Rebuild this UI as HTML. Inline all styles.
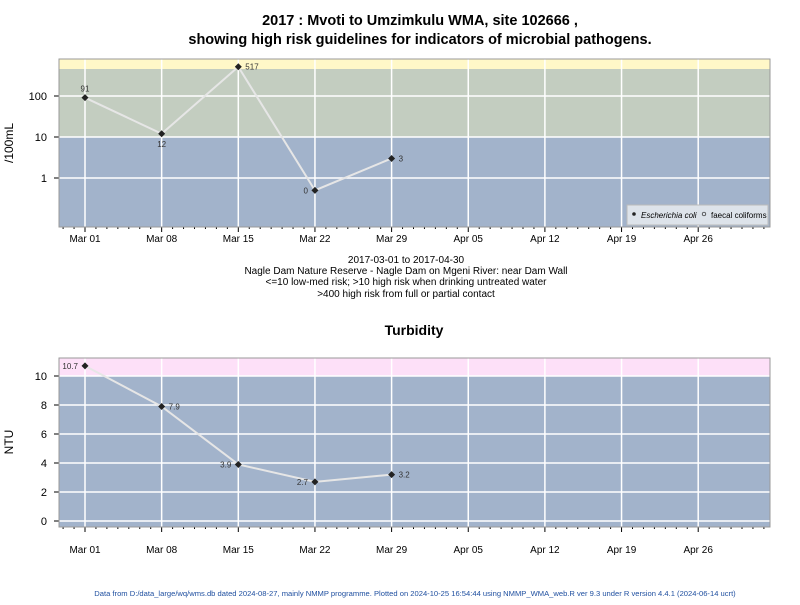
<!DOCTYPE html>
<html><head><meta charset="utf-8"><style>
body{margin:0;background:#fff;font-family:"Liberation Sans",sans-serif}
</style></head><body>
<svg width="800" height="600" xmlns="http://www.w3.org/2000/svg" font-family="Liberation Sans, sans-serif">
<g id="titles">
<text x="420" y="25" font-size="14.5" font-weight="bold" text-anchor="middle">2017 : Mvoti to Umzimkulu WMA, site 102666 ,</text>
<text x="420" y="44" font-size="14.5" font-weight="bold" text-anchor="middle">showing high risk guidelines for indicators of microbial pathogens.</text>
<g font-size="10" text-anchor="middle">
<text x="406" y="263">2017-03-01 to 2017-04-30</text>
<text x="406" y="274">Nagle Dam Nature Reserve - Nagle Dam on Mgeni River: near Dam Wall</text>
<text x="406" y="285">&lt;=10 low-med risk; &gt;10 high risk when drinking untreated water</text>
<text x="406" y="297">&gt;400 high risk from full or partial contact</text>
</g>
<text x="414" y="335" font-size="14" font-weight="bold" text-anchor="middle">Turbidity</text>
<text x="415" y="596" font-size="7.6" fill="#2050a0" text-anchor="middle">Data from D:/data_large/wq/wms.db dated 2024-08-27, mainly NMMP programme. Plotted on 2024-10-25 16:54:44 using NMMP_WMA_web.R ver 9.3 under R version 4.4.1 (2024-06-14 ucrt)</text>
<text transform="translate(13,143) rotate(-90)" font-size="12" text-anchor="middle">/100mL</text>
<text transform="translate(13,442) rotate(-90)" font-size="12" text-anchor="middle">NTU</text>
</g>
<g id="p1"></g><g id="p2"></g>
</svg>
<script>
const dateLabels=["Mar 01","Mar 08","Mar 15","Mar 22","Mar 29","Apr 05","Apr 12","Apr 19","Apr 26"];
const sampleDays=[0,7,14,21,28];
const ecoliValues=[91,12,517,0,3];
const ecoliLabels=["91","12","517","0","3"];
const ntuValues=[10.7,7.9,3.9,2.7,3.2];
const ntuLabels=["10.7","7.9","3.9","2.7","3.2"];
const logTicks=[1,10,100];
const ntuTicks=[0,2,4,6,8,10];
const NS="http://www.w3.org/2000/svg";
function mk(p,t,a){const e=document.createElementNS(NS,t);for(const k in a)e.setAttribute(k,a[k]);p.appendChild(e);return e;}
const X0=59,X1=770;
function xs(d){return 85+d*10.95;}
function drawPanel(g,top,bot,ys,bands,ticks,tickLab,vals,labs,labPos,name,labOff){
  bands.forEach(b=>{const r=mk(g,'rect',{x:X0,y:b[0],width:X1-X0,height:b[1]-b[0],fill:b[2]});
    });
  for(let i=0;i<dateLabels.length;i++){const x=xs(i*7);
    const l=mk(g,'line',{x1:x,x2:x,y1:top,y2:bot,stroke:'#fff','stroke-width':1.5});
    
    mk(g,'line',{x1:x,x2:x,y1:bot,y2:bot+5,stroke:'#000'});
    const t=mk(g,'text',{x:x,y:bot+labOff,'font-size':10,'text-anchor':'middle'});t.textContent=dateLabels[i];
    }
  for(let d=-2;d<=62;d++){const x=xs(d);if(x<X0||x>X1||d%7==0)continue;mk(g,'line',{x1:x,x2:x,y1:bot,y2:bot+2,stroke:'#000'});}
  ticks.forEach((v,i)=>{const y=ys(v);
    const l=mk(g,'line',{x1:X0,x2:X1,y1:y,y2:y,stroke:'#fff','stroke-width':1.5});
    
    mk(g,'line',{x1:X0-5,x2:X0,y1:y,y2:y,stroke:'#000'});
    const t=mk(g,'text',{x:X0-12,y:y+4,'font-size':11,'text-anchor':'end'});t.textContent=tickLab[i];
    });
  mk(g,'rect',{x:X0,y:top,width:X1-X0,height:bot-top,fill:'none',stroke:'#999'});
  const pts=vals.map((v,i)=>xs(sampleDays[i])+','+ys(v)).join(' ');
  const pl=mk(g,'polyline',{points:pts,fill:'none',stroke:'#e6e6e6','stroke-width':2});
  
  vals.forEach((v,i)=>{const x=xs(sampleDays[i]),y=ys(v);
    const c=mk(g,'path',{d:`M${x} ${y-3.5}L${x+3.5} ${y}L${x} ${y+3.5}L${x-3.5} ${y}Z`,fill:'#222'});
    
    const p=labPos[i];let tx=x,ty=y+3,an='middle';
    if(p=='r'){tx=x+7;an='start';}else if(p=='l'){tx=x-7;an='end';}else if(p=='t'){ty=y-6;}else{ty=y+13;}
    const t=mk(g,'text',{x:tx,y:ty,'font-size':8,'text-anchor':an,fill:'#333'});t.textContent=labs[i];
    });
}
const g1=document.getElementById('p1');
const ylog=v=>{const vv=v<=0?0.5:v;return 178-Math.log10(vv)*41;};
drawPanel(g1,59,227,ylog,[[59,69,'#fff8c8'],[69,137,'#c3cdc0'],[137,227,'#a2b3cb']],logTicks,["1","10","100"],ecoliValues,ecoliLabels,['t','b','r','l','r'],'ecoli',15);
const lg=mk(g1,'g',{});
mk(lg,'rect',{x:627,y:205,width:141,height:20,fill:'#dde3ea',stroke:'#bbb'});
mk(lg,'circle',{cx:634,cy:214,r:1.8,fill:'#222'});
let t=mk(lg,'text',{x:641,y:218,'font-size':8,'font-style':'italic'});t.textContent='Escherichia coli';
mk(lg,'circle',{cx:704,cy:214,r:1.8,fill:'none',stroke:'#222','stroke-width':0.7});
t=mk(lg,'text',{x:711,y:218,'font-size':8});t.textContent='faecal coliforms';
const g2=document.getElementById('p2');
const ylin=v=>521-v*14.5;
drawPanel(g2,358,527,ylin,[[358,376,'#fde0f8'],[376,527,'#a2b3cb']],ntuTicks,ntuTicks.map(String),ntuValues,ntuLabels,['l','r','l','l','r'],'ntu',26);
</script>
</body></html>
